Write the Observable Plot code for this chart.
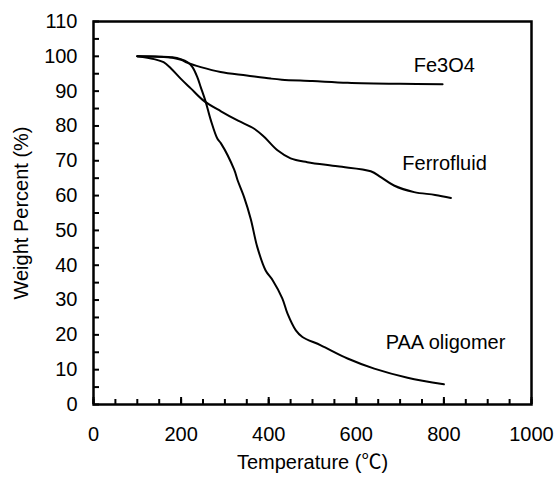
<!DOCTYPE html>
<html>
<head>
<meta charset="utf-8">
<script src="https://cdn.jsdelivr.net/npm/d3@7"></script>
<script src="https://cdn.jsdelivr.net/npm/@observablehq/plot@0.6"></script>
<style>
  html, body { margin: 0; padding: 0; background: #fff; }
  #chart svg { display: block; }
</style>
</head>
<body>
<div id="chart"></div>
<script>
// ---- Data ----
const fe3o4Temp   = [100, 150, 180, 200, 215, 245, 290, 350, 405, 430, 500, 580, 700, 797];
const fe3o4Weight = [100, 99.9, 99.6, 99.0, 98.1, 96.9, 95.5, 94.5, 93.6, 93.3, 92.9, 92.4, 92.1, 92.0];

const ferroTemp   = [100, 138, 160, 177, 199, 222, 252, 291, 330, 367, 390, 420, 450, 488, 557, 633, 656, 686, 732, 780, 816];
const ferroWeight = [100, 99.2, 98.3, 96.5, 93.6, 90.8, 87.2, 84.2, 81.5, 79.2, 76.8, 73.0, 70.7, 69.6, 68.4, 67.0, 65.3, 62.9, 61.0, 60.2, 59.3];

const paaTemp   = [100, 150, 180, 199, 215, 226, 237, 245, 256, 268, 283, 291, 321, 329, 344, 359, 374, 393, 409, 431, 443, 462, 477, 519, 580, 641, 717, 800];
const paaWeight = [100, 99.9, 99.7, 99.2, 98.3, 96.9, 94.0, 91.1, 87.0, 81.6, 76.3, 75.0, 67.5, 64.4, 59.5, 53.3, 45.2, 38.5, 35.7, 30.5, 26.1, 21.3, 19.4, 17.0, 13.2, 10.3, 7.7, 5.8];

const seriesNames = ["Fe3O4", "Ferrofluid", "PAA oligomer"];
const labelTemp   = [731, 705, 667];
const labelWeight = [97.4, 69.2, 17.7];

const xTickValues = [0, 200, 400, 600, 800, 1000];
const yTickValues = [0, 10, 20, 30, 40, 50, 60, 70, 80, 90, 100, 110];
const xMinorTicks = [0, 50, 100, 150, 200, 250, 300, 350, 400, 450, 500, 550, 600, 650, 700, 750, 800, 850, 900, 950, 1000];
const yMinorTicks = [0, 5, 10, 15, 20, 25, 30, 35, 40, 45, 50, 55, 60, 65, 70, 75, 80, 85, 90, 95, 100, 105, 110];

const xTitle = "Temperature (\u2103)";
const yTitle = "Weight Percent (%)";

// ---- Build tables ----
const rows = [
  ...fe3o4Temp.map((t, i) => ({series: seriesNames[0], t, w: fe3o4Weight[i]})),
  ...ferroTemp.map((t, i) => ({series: seriesNames[1], t, w: ferroWeight[i]})),
  ...paaTemp.map((t, i) => ({series: seriesNames[2], t, w: paaWeight[i]}))
];
const labels = seriesNames.map((name, i) => ({name, t: labelTemp[i], w: labelWeight[i]}));

const FONT = "'Liberation Sans', Arial, 'Noto Sans CJK SC', Helvetica, sans-serif";
const TICK = "#000";

const chart = Plot.plot({
  width: 554,
  height: 481,
  marginLeft: 93,
  marginRight: 23,
  marginTop: 21,
  marginBottom: 77,
  style: { fontFamily: FONT, fontSize: "20px", color: "#000", background: "#fff" },
  x: { domain: [0, 1000] },
  y: { domain: [0, 110] },
  marks: [
    Plot.axisX({ ticks: xTickValues, tickSize: 0, tickPadding: 22, fontSize: 20, label: null, tickFormat: d3.format("d") }),
    Plot.axisY({ ticks: yTickValues, tickSize: 0, tickPadding: 16, fontSize: 20, label: null }),
    Plot.frame({ stroke: "#000", fill: "none", strokeWidth: 2.5 }),
    Plot.line(rows, { x: "t", y: "w", z: "series", stroke: "#000", strokeWidth: 2, curve: "catmull-rom" }),
    // inward tick marks
    Plot.axisY({ ticks: yMinorTicks, tickSize: -6, text: null, label: null, stroke: TICK, strokeWidth: 2 }),
    Plot.axisX({ ticks: xMinorTicks, tickSize: -5, text: null, label: null, stroke: TICK, strokeWidth: 2 }),
    Plot.axisX({ ticks: xTickValues, tickSize: -7, text: null, label: null, stroke: TICK, strokeWidth: 2 }),
    Plot.text(labels, { x: "t", y: "w", text: "name", textAnchor: "start", fontSize: 20, fill: "#000" }),
    Plot.text([xTitle], { frameAnchor: "bottom", textAnchor: "middle", lineAnchor: "middle", dy: 58, fontSize: 20, fill: "#000" }),
    Plot.text([yTitle], { frameAnchor: "left", textAnchor: "middle", lineAnchor: "middle", dx: -72, rotate: -90, fontSize: 20, fill: "#000" })
  ]
});
document.getElementById("chart").appendChild(chart);
</script>
</body>
</html>
